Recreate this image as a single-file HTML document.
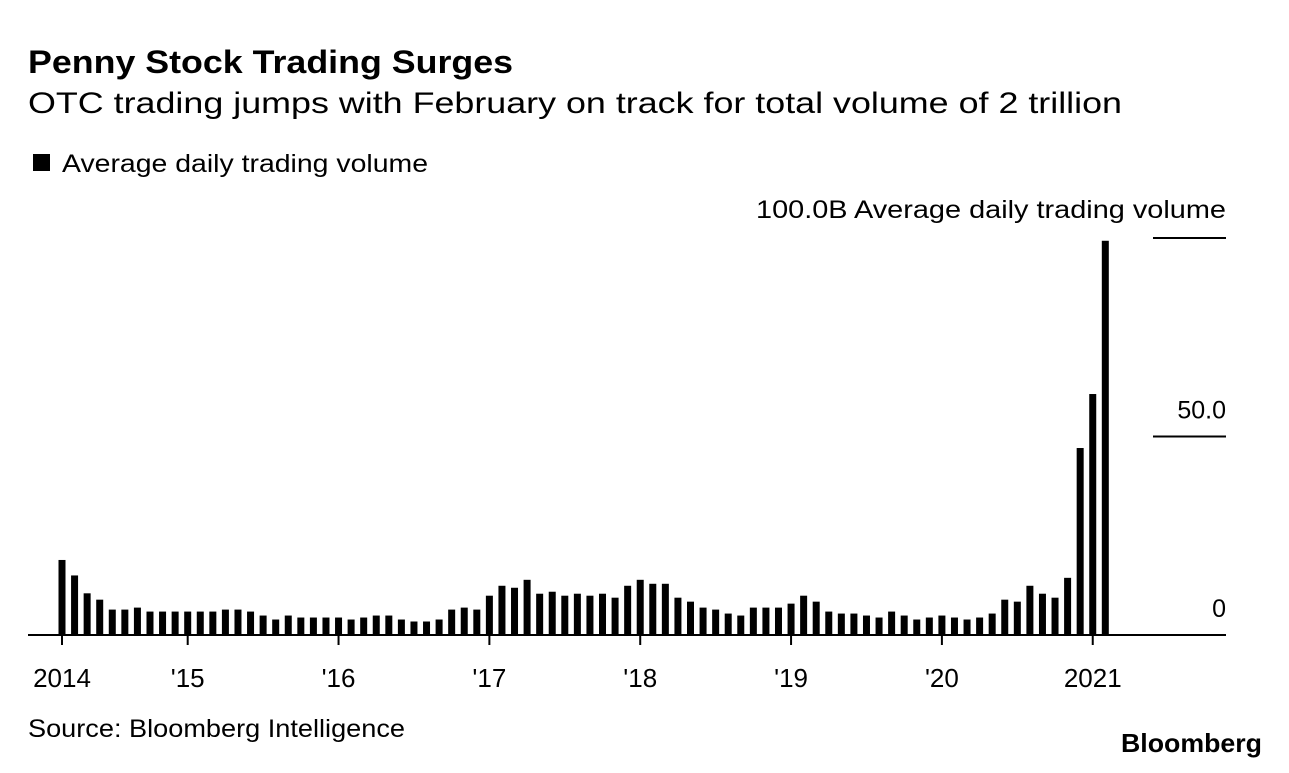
<!DOCTYPE html>
<html><head><meta charset="utf-8"><style>
body{margin:0;background:#fff;width:1289px;height:768px;overflow:hidden;font-family:"Liberation Sans",Arial,sans-serif;color:#000}
</style></head><body>
<svg width="1289" height="768" xmlns="http://www.w3.org/2000/svg" font-family="Liberation Sans, Arial, sans-serif">
<text x="28" y="73" font-size="32" font-weight="bold" textLength="485" lengthAdjust="spacingAndGlyphs">Penny Stock Trading Surges</text>
<text x="28" y="113" font-size="30" textLength="1094" lengthAdjust="spacingAndGlyphs">OTC trading jumps with February on track for total volume of 2 trillion</text>
<rect x="33" y="154" width="17" height="17" fill="#000"/>
<text x="62" y="172" font-size="25" textLength="366" lengthAdjust="spacingAndGlyphs">Average daily trading volume</text>
<g id="grid"></g>
<g id="bars"></g>
<g id="axis"></g>
<text x="28" y="737" font-size="25" textLength="377" lengthAdjust="spacingAndGlyphs">Source: Bloomberg Intelligence</text>
<text x="1262" y="752" font-size="26" font-weight="bold" text-anchor="end" textLength="141" lengthAdjust="spacingAndGlyphs">Bloomberg</text>
</svg>
<script>
const values=[18.9,15,10.5,8.9,6.4,6.4,6.9,5.9,5.9,5.9,5.9,5.9,5.9,6.4,6.4,5.9,4.9,3.9,4.9,4.4,4.4,4.4,4.4,3.9,4.4,4.9,4.9,3.9,3.4,3.4,3.9,6.4,6.9,6.4,9.9,12.4,11.9,13.9,10.4,10.9,9.9,10.4,9.9,10.4,9.4,12.4,13.9,12.9,12.9,9.4,8.4,6.9,6.4,5.4,4.9,6.9,6.9,6.9,7.9,9.9,8.4,5.9,5.4,5.4,4.9,4.4,5.9,4.9,3.9,4.4,4.9,4.4,3.9,4.4,5.4,8.9,8.4,12.4,10.4,9.4,14.4,47.1,60.7,99.3];
const tickIdx=[0,10,22,34,46,58,70,82];
const tickLabels=["2014","'15","'16","'17","'18","'19","'20","2021"];
const yTicks=[0,50,100];
const yLabels=["0","50.0","100.0B Average daily trading volume"];
const NS="http://www.w3.org/2000/svg";
const x=i=>62+i*12.57;
const y=v=>635-v*3.97;
function mk(tag,attrs,parent){const e=document.createElementNS(NS,tag);for(const k in attrs)e.setAttribute(k,attrs[k]);parent.appendChild(e);return e;}
const gb=document.getElementById('bars'),ga=document.getElementById('axis'),gg=document.getElementById('grid');
values.forEach((v,i)=>{
 const r=mk('rect',{x:x(i)-3.5,y:y(v),width:7,height:y(0)-y(v),fill:'#000'},gb);
 
 
});
yTicks.forEach((t,k)=>{
 if(t>0){const l=mk('line',{x1:1153,x2:1226,y1:y(t),y2:y(t),stroke:'#000','stroke-width':2},gg);
 
 }
 const attrs={x:1226,y:y(t)-(t===100?20:18),'font-size':25,'text-anchor':'end'};
 if(t===100){attrs.textLength=470;attrs.lengthAdjust='spacingAndGlyphs';}
 const tx=mk('text',attrs,gg);
 tx.textContent=yLabels[k];
 
 
});
const base=mk('line',{x1:28,x2:1226,y1:635,y2:635,stroke:'#000','stroke-width':2},ga);


tickIdx.forEach((ti,k)=>{
 const l=mk('line',{x1:x(ti),x2:x(ti),y1:635,y2:645,stroke:'#000','stroke-width':2},ga);
 
 
 const t=mk('text',{x:x(ti),y:687,'font-size':26,'text-anchor':'middle'},ga);
 t.textContent=tickLabels[k];
 
 
});
</script>
</body></html>
